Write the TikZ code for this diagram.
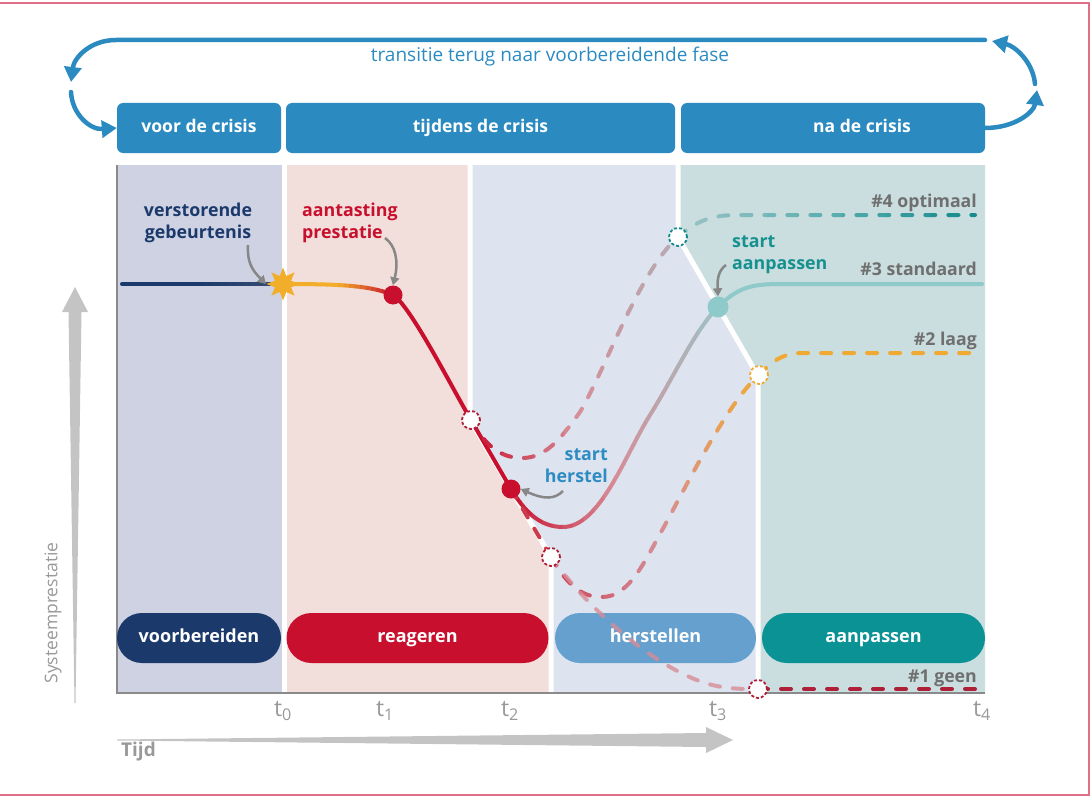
\documentclass[tikz,border=0pt]{standalone}
\usepackage{fontspec}
\setmainfont{Open Sans}
\usetikzlibrary{arrows.meta,shapes.geometric}

\definecolor{kop}{HTML}{2B8BC0}
\definecolor{navy}{HTML}{1B3A6B}
\definecolor{rood}{HTML}{C8102E}
\definecolor{roodzacht}{HTML}{CC3A4E}
\definecolor{roze}{HTML}{D68D97}
\definecolor{grijsroze}{HTML}{B4ADB3}
\definecolor{tealgrijs}{HTML}{9DC3C5}
\definecolor{tealLicht}{HTML}{8ECACA}
\definecolor{tealMidden}{HTML}{5DAFB0}
\definecolor{tealDonker}{HTML}{11898B}
\definecolor{oranje}{HTML}{F0AA33}
\definecolor{donkerrood}{HTML}{AE1F38}
\definecolor{sterkleur}{HTML}{F2AE2B}
\definecolor{vlakA}{HTML}{CED2E2}
\definecolor{vlakB}{HTML}{F2DEDA}
\definecolor{vlakC}{HTML}{DDE4F0}
\definecolor{vlakD}{HTML}{CADDDF}
\definecolor{asgrijs}{HTML}{8A8A8A}
\definecolor{pijlgrijs}{HTML}{878787}
\definecolor{lichtgrijs}{HTML}{C4C4C4}
\definecolor{tekstgrijs}{HTML}{999999}
\definecolor{labelgrijs}{HTML}{6F6F6F}
\definecolor{herstelblauw}{HTML}{65A0CF}
\definecolor{tealpil}{HTML}{0A9294}
\definecolor{uitlegblauw}{HTML}{2E8CC2}
\definecolor{uitlegteal}{HTML}{16918F}
\definecolor{lijst}{HTML}{E16F86}

% lijn in 20 kleurstroken van links naar rechts
\newcommand\verloop[7]{%
	\foreach \i in {0,...,19}{%
		\pgfmathsetmacro\xa{#3+(#4-#3)*\i/20-(\i==0)*15}
		\pgfmathsetmacro\xb{#3+(#4-#3)*(\i+1)/20+0.6+(\i==19)*15}
		\pgfmathtruncatemacro\w{abs(95-10*\i)}
		\ifnum\i<10 \colorlet{band}{#5!\w!#6}\else\colorlet{band}{#7!\w!#6}\fi
		\begin{scope}
			\clip (\xa,0) rectangle (\xb,797);
			\draw[#1, draw=band] #2;
		\end{scope}
	}%
}

\begin{document}
\begin{tikzpicture}[x=1pt, y=-1pt,
	kopbox/.style={fill=kop, rounded corners=6pt, minimum height=50pt, inner sep=0pt, text height=12.5pt, text depth=3.5pt, text=white, font=\fontsize{17.5}{20}\selectfont\bfseries},
	fasepil/.style={rounded corners=24.9pt, minimum height=50pt, inner sep=0pt, text height=13pt, text depth=4pt, text=white, font=\fontsize{18}{20}\selectfont\bfseries},
	lijn/.style={line width=4pt, line cap=round},
	stip/.style={line width=4pt, line cap=round, dash pattern=on 10pt off 13pt},
	leeg/.style={circle, fill=white, draw, dash pattern=on 3pt off 2pt, line width=1.8pt, minimum size=18pt, inner sep=0pt},
	punt/.style={circle, minimum size=19pt, inner sep=0pt},
	wijzer/.style={draw=pijlgrijs, line width=2.5pt, -{Triangle[length=8pt,width=9pt]}},
	uitleg/.style={font=\fontsize{17.8}{22}\selectfont\bfseries, inner sep=0pt},
	scenario/.style={text=labelgrijs, font=\fontsize{17.7}{20}\selectfont\bfseries, anchor=base east, inner sep=0pt},
	tijdlabel/.style={text=tekstgrijs, font=\fontsize{23}{23}\selectfont, inner sep=0pt},
	overgang/.style={draw=kop, line width=4.5pt, line cap=round, -{Triangle[length=15pt,width=17pt]}}
]
	\useasboundingbox (0,0) rectangle (1091,797);
	\draw[lijst, line width=1.5pt] (0,3) -- (1089,3) -- (1089,795) -- (0,795);

	% vlakken
	\fill[vlakA] (117,165) rectangle (284,693);
	\fill[vlakB] (284,165) -- (470,165) -- (470,420) -- (551,557) -- (551,693) -- (284,693) -- cycle;
	\fill[vlakC] (470,165) -- (678,165) -- (678,237) -- (758,376) -- (758,693) -- (551,693) -- (551,557) -- (470,420) -- cycle;
	\fill[vlakD] (678,165) -- (985,165) -- (985,693) -- (758,693) -- (758,376) -- (678,237) -- cycle;
	\draw[white, line width=5pt] (284,165) -- (284,693);
	\draw[white, line width=5pt] (470,165) -- (470,420) -- (551,557) -- (551,693);
	\draw[white, line width=5pt] (678,165) -- (678,237) -- (758,376) -- (758,693);
	\draw[asgrijs, line width=2.5pt] (117,165) -- (117,693) -- (985,693);

	% kop
	\node[kopbox, minimum width=164pt] (voor) at (199,128) {voor de crisis};
	\node[kopbox, minimum width=389pt] (tijdens) at (480.5,128) {tijdens de crisis};
	\node[kopbox, minimum width=304pt] (na) at (833,128) {\hspace*{58pt}na de crisis};

	\coordinate (terugR) at (985,40);
	\coordinate (terugL) at (116,40);
	\draw[overgang] (terugR) -- (terugL) .. controls (90,40) and (74,58) .. (71,82);
	\draw[overgang] (71,92) .. controls (72,114) and (90,130) .. (voor.west);
	\draw[overgang] (na.east) .. controls (1015,128) and (1034,112) .. (1037,90);
	\draw[overgang] (1035,84) .. controls (1033,62) and (1015,46) .. (992,41);
	\node[text=kop, font=\fontsize{19}{22}\selectfont] (transitie) at (550,57) {transitie terug naar voorbereidende fase};

	% fasen
	\node[fasepil, fill=navy, minimum width=164pt] (voorbereiden) at (199,638) {voorbereiden};
	\node[fasepil, fill=rood, minimum width=262pt] (reageren) at (417.5,638) {reageren};
	\node[fasepil, fill=herstelblauw, minimum width=201pt] (herstellen) at (655.5,638) {herstellen};
	\node[fasepil, fill=tealpil, minimum width=223pt] (aanpassen) at (873.5,638) {aanpassen};

	% punten
	\coordinate (begin) at (122,284);
	\coordinate (ster) at (283,284);
	\coordinate (t1) at (393,295);
	\coordinate (c1) at (471,420);
	\coordinate (t2) at (511,489);
	\coordinate (c2) at (551,557);
	\coordinate (c4) at (678,237);
	\coordinate (t3) at (718,307);
	\coordinate (c3) at (759,375);
	\coordinate (c0) at (758,689);

	% #3 standaard
	\verloop{lijn}{(begin) -- (ster)}{122}{283}{navy}{navy}{navy!70!gray}
	\verloop{lijn}{(ster) .. controls (335,284) and (370,285) .. (t1)}{283}{393}{sterkleur}{sterkleur}{rood}
	\draw[lijn, rood] (t1) .. controls (410,305) and (451,386) .. (c1) -- (t2);
	\verloop{lijn}{(t2) .. controls (525,512) and (540,527) .. (563,527) .. controls (600,527) and (625,455) .. (650,415) .. controls (675,375) and (695,330) .. (t3)}{511}{718}{rood}{roze}{tealgrijs}
	\draw[lijn, tealLicht] (t3) .. controls (740,285) and (755,284) .. (785,284) -- (982,284);

	% #4 optimaal
	\verloop{stip}{(c1) .. controls (485,445) and (500,458) .. (522,458) .. controls (545,458) and (560,440) .. (580,412) .. controls (605,370) and (640,270) .. (c4)}{471}{678}{rood}{roze}{grijsroze}
	\verloop{stip}{(c4) .. controls (700,218) and (715,215) .. (740,215) -- (975,215)}{678}{975}{tealgrijs}{tealMidden}{tealDonker}

	% #2 laag en #1 geen
	\draw[stip, roodzacht] (t2) -- (c2);
	\verloop{stip}{(c2) .. controls (570,590) and (585,597) .. (602,597) .. controls (630,597) and (645,560) .. (665,525) .. controls (690,478) and (730,400) .. (c3)}{551}{759}{roodzacht}{roze}{oranje}
	\draw[stip, oranje] (c3) .. controls (775,358) and (785,353) .. (805,353) -- (975,353);
	\draw[stip, roze, opacity=.8] (c2) .. controls (585,605) and (650,665) .. (705,683) .. controls (725,689) and (740,689) .. (c0);
	\draw[stip, donkerrood] (c0) -- (975,689);

	\node[leeg, draw=donkerrood] (o1) at (c1) {};
	\node[leeg, draw=donkerrood] (o2) at (c2) {};
	\node[leeg, draw=tealDonker] (o4) at (c4) {};
	\node[leeg, draw=oranje] (o3) at (c3) {};
	\node[leeg, draw=donkerrood] (o0) at (c0) {};
	\node[punt, fill=rood] (aantasting) at (t1) {};
	\node[punt, fill=rood] (herstel) at (t2) {};
	\node[punt, fill=tealLicht, minimum size=21pt] (aanpassing) at (t3) {};
	\node[star, star points=8, star point ratio=1.9, fill=sterkleur, minimum size=33pt, inner sep=0pt] (flits) at (ster) {};

	% uitleg
	\node[uitleg, text=navy, align=center, anchor=base] (verstorend) at (198,238) {verstorende\\gebeurtenis};
	\node[uitleg, text=rood, align=left, anchor=base west] (prestatie) at (302,238) {aantasting\\prestatie};
	\node[uitleg, text=uitlegblauw, align=right, anchor=base east] (startherstel) at (608,482) {start\\herstel};
	\node[uitleg, text=uitlegteal, align=left, anchor=base west] (startaanpassen) at (732,269) {start\\aanpassen};
	\draw[wijzer] (248,245) .. controls (247,262) and (252,270) .. (flits.west);
	\draw[wijzer] (385,238) .. controls (395,245) and (399,260) .. (aantasting.north);
	\draw[wijzer] (563,491) .. controls (555,499) and (545,500) .. (herstel.east);
	\draw[wijzer] (726,265) .. controls (719,270) and (717,278) .. (aanpassing.north);

	\node[scenario] (optimaal) at (977,207) {\#4 optimaal};
	\node[scenario] (standaard) at (977,275) {\#3 standaard};
	\node[scenario] (laag) at (977,345) {\#2 laag};
	\node[scenario] (geen) at (977,682) {\#1 geen};

	% assen
	\fill[lichtgrijs] (117,739.5) -- (706,733) -- (706,727) -- (733,740) -- (706,753) -- (706,747) -- (117,740.5) -- cycle;
	\fill[lichtgrijs] (74.5,703) -- (68.5,312) -- (62,312) -- (75,287) -- (88,312) -- (81.5,312) -- (75.5,703) -- cycle;
	\node[tijdlabel] (tnul) at (283,711) {t\textsubscript{0}};
	\node[tijdlabel] (teen) at (385,711) {t\textsubscript{1}};
	\node[tijdlabel] (ttwee) at (510,711) {t\textsubscript{2}};
	\node[tijdlabel] (tdrie) at (718,711) {t\textsubscript{3}};
	\node[tijdlabel] (tvier) at (982,711) {t\textsubscript{4}};
	\node[text=tekstgrijs, font=\fontsize{19}{22}\selectfont\bfseries, anchor=west, inner sep=0pt] (tijd) at (121,752) {Tijd};
	\node[text=tekstgrijs, font=\fontsize{17.5}{20}\selectfont, rotate=90, inner sep=0pt] (prestatieas) at (53,613) {Systeemprestatie};
\end{tikzpicture}
\end{document}
